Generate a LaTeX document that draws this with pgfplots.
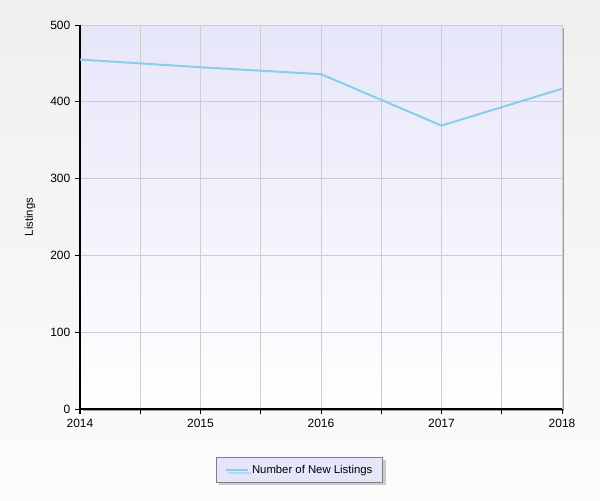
\documentclass[border=0pt]{standalone}
\usepackage{pgfplots}
\pgfplotsset{compat=1.18}
\usepackage{fontspec}
\setmainfont{Liberation Sans}
\usetikzlibrary{shadows}
\definecolor{bgtop}{HTML}{EFEFEF}
\definecolor{bgbot}{HTML}{FCFCFC}
\definecolor{plottop}{HTML}{E6E6FA}
\definecolor{plotbot}{HTML}{FFFFFF}
\definecolor{gridgray}{HTML}{CDCDCD}
\definecolor{linecol}{HTML}{87CEEB}
\definecolor{legfill}{HTML}{E6E6FA}
\begin{document}
\begin{tikzpicture}
\shade[top color=bgtop,bottom color=bgbot] (0pt,0pt) rectangle (450pt,375pt);
\fill[gray!75] (62pt,66.5pt) rectangle (423pt,354pt);
\begin{axis}[
  at={(60pt,68.25pt)}, anchor=south west,
  width=361.5pt, height=288pt, scale only axis,
  xmin=2014, xmax=2018, ymin=0, ymax=500,
  xtick={2014,2015,2016,2017,2018},
  minor xtick={2014.5,2015.5,2016.5,2017.5},
  ytick={0,100,200,300,400,500},
  grid=both,
  grid style={color=gridgray, line width=0.75pt},
  minor grid style={color=gridgray, line width=0.75pt},
  axis lines=left,
  axis line style={-, line width=1.1pt, black},
  tick align=outside,
  major tick length=3.75pt, minor tick length=3.75pt,
  tick style={black, line width=0.75pt},
  xticklabel style={/pgf/number format/1000 sep={}},
  ticklabel style={font=\fontsize{9}{11}\selectfont},
  /pgf/number format/assume math mode=true,
  axis background/.style={shade, top color=plottop, bottom color=plotbot},
  ylabel={Listings},
  ylabel style={font=\fontsize{8.5}{10}\selectfont, at={(axis description cs:-0.104,0.5)}, anchor=center},
  legend style={at={(axis description cs:0.456,-0.159)}, anchor=center,
    fill=legfill, draw=gray, line width=0.75pt,
    font=\fontsize{8.5}{10}\selectfont,
    drop shadow={shadow xshift=2pt, shadow yshift=-2pt, fill=gray!80},
    inner xsep=6pt, inner ysep=3.5pt},
  legend cell align=left,
]
\addplot[color=linecol, line width=1.5pt] coordinates {
  (2014,455) (2015,445) (2016,436) (2017,369) (2018,417)
};
\addlegendentry{Number of New Listings}
\end{axis}
\end{tikzpicture}
\end{document}
